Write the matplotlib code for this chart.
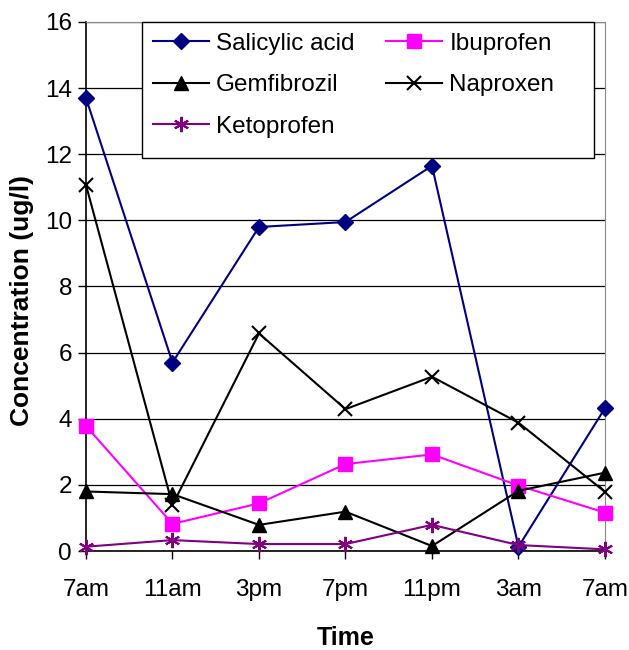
import matplotlib.pyplot as plt
from matplotlib.patches import Rectangle

plt.rcParams['font.family'] = ['Liberation Sans', 'DejaVu Sans']

# sampling times over one day
times = ['7am', '11am', '3pm', '7pm', '11pm', '3am', '7am']

salicylic = [13.7, 5.7, 9.8, 9.95, 11.65, 0.13, 4.32]
ibuprofen = [3.78, 0.82, 1.44, 2.63, 2.92, 1.98, 1.16]
gemfibrozil = [1.8, 1.72, 0.79, 1.19, 0.15, 1.82, 2.37]
naproxen = [11.07, 1.39, 6.58, 4.29, 5.27, 3.88, 1.79]
ketoprofen = [0.13, 0.33, 0.21, 0.21, 0.79, 0.18, 0.05]

fig = plt.figure(figsize=(6.29, 6.5), dpi=100)
ax = fig.add_axes([0.1367, 0.1523, 0.8251, 0.8139])

x = list(range(len(times)))
lw = 1.5
h_sal, = ax.plot(x, salicylic, color='#000080', marker='D', ms=8, lw=lw, clip_on=False, zorder=5)
h_ibu, = ax.plot(x, ibuprofen, color='#FF00FF', marker='s', ms=10, lw=lw, clip_on=False, zorder=5)
h_gem, = ax.plot(x, gemfibrozil, color='black', marker='^', ms=10, lw=lw, clip_on=False, zorder=5)
h_nap, = ax.plot(x, naproxen, color='black', marker='x', ms=10, mew=1.5, lw=lw, clip_on=False, zorder=5)
h_ket, = ax.plot(x, ketoprofen, color='#800080', marker=(6, 2, 0), ms=11, mew=1.5, lw=lw, clip_on=False, zorder=5)

ax.set_xlim(0, 6)
ax.set_ylim(0, 16)
ax.set_yticks(range(0, 17, 2))
ax.set_xticks(x)
ax.set_xticklabels(times)
ax.yaxis.grid(True, color='black', lw=0.9)
ax.set_axisbelow(True)

ax.tick_params(axis='both', direction='out', length=6, width=1, labelsize=17.5, colors='black')
ax.tick_params(axis='x', pad=14)
ax.tick_params(axis='y', pad=4)
for s in ['top', 'right']:
    ax.spines[s].set_color('#888888')
for s in ['left', 'bottom']:
    ax.spines[s].set_color('black')
    ax.spines[s].set_linewidth(1.2)

ax.set_xlabel('Time', fontsize=18, fontweight='bold', labelpad=18)
ax.set_ylabel('Concentration (ug/l)', fontsize=19, fontweight='bold')
ax.yaxis.set_label_coords(-0.1, 0.473)

# legend box drawn separately so it can be wider than its entries
box = Rectangle((0.108, 0.743), 0.871, 0.257, transform=ax.transAxes,
                facecolor='white', edgecolor='black', lw=1.0, zorder=9, clip_on=False)
ax.add_patch(box)
leg = ax.legend([h_sal, h_gem, h_ket, h_ibu, h_nap],
                ['Salicylic acid', 'Gemfibrozil', 'Ketoprofen', 'Ibuprofen', 'Naproxen'],
                ncol=2, loc='upper left', bbox_to_anchor=(0.108, 1.0),
                fontsize=17.5, frameon=False, borderaxespad=0,
                handlelength=2.3, handletextpad=0.3, columnspacing=1.3,
                labelspacing=0.8, borderpad=0.45)
leg.set_zorder(10)

fig.savefig('out.png', dpi=100)
